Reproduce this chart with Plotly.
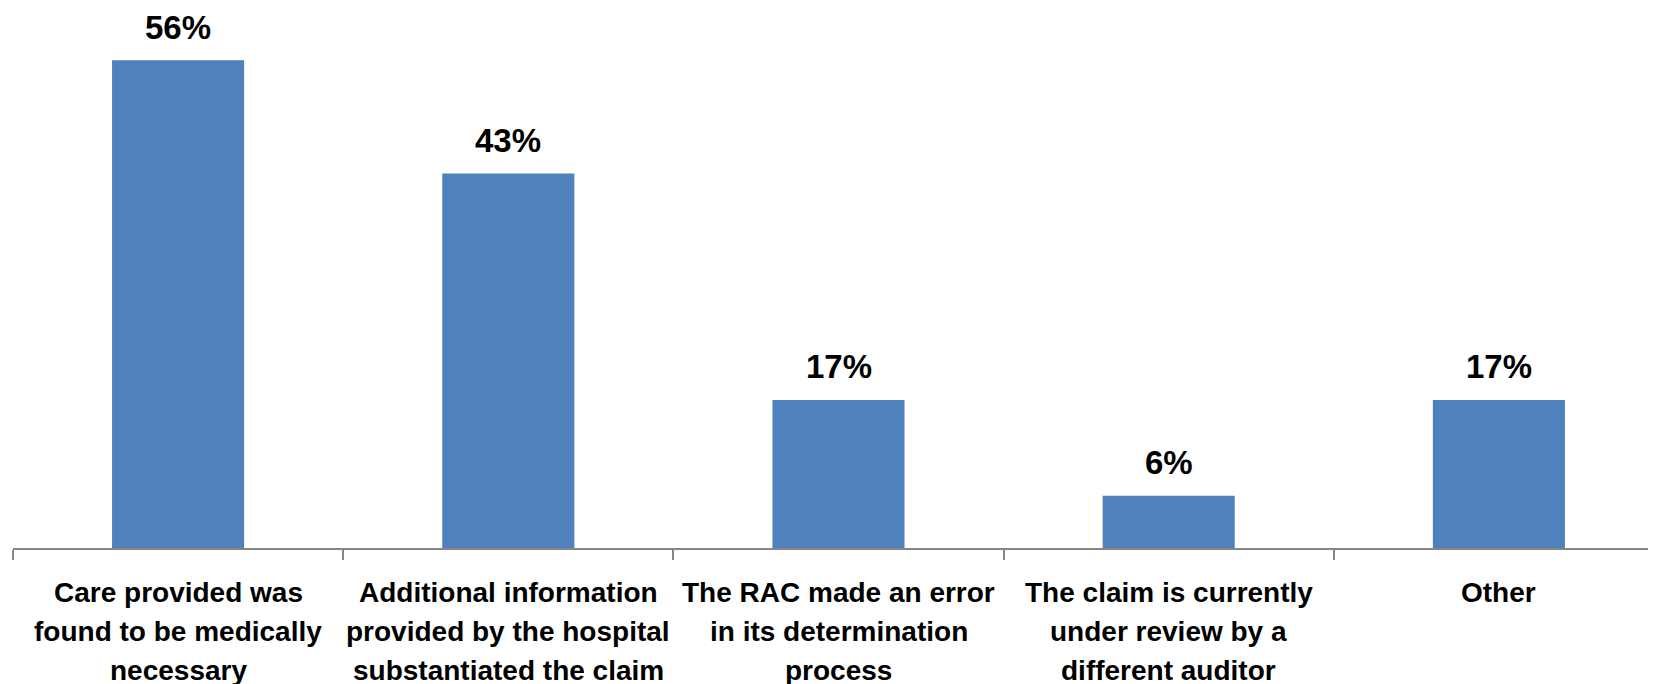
import plotly.graph_objects as go

categories = [
    "Care provided was<br>found to be medically<br>necessary",
    "Additional information<br>provided by the hospital<br>substantiated the claim",
    "The RAC made an error<br>in its determination<br>process",
    "The claim is currently<br>under review by a<br>different auditor",
    "Other",
]
values = [56, 43, 17, 6, 17]
value_labels = ["56%", "43%", "17%", "6%", "17%"]

FONT = "Liberation Sans, Arial, sans-serif"

fig = go.Figure(go.Bar(
    x=categories,
    y=values,
    marker=dict(color="#4F81BD", line=dict(width=0)),
    width=0.4,
    cliponaxis=False,
))

# value labels above bars
for c, v, t in zip(categories, values, value_labels):
    fig.add_annotation(
        x=c, y=v, text=f"<b>{t}</b>", showarrow=False,
        yanchor="middle", yshift=33,
        font=dict(size=33, color="black", family=FONT),
    )

# category labels (one annotation per line for Excel-like line spacing)
for c in categories:
    for i, line in enumerate(c.split("<br>")):
        fig.add_annotation(
            x=c, xref="x", y=0, yref="paper",
            text=f"<b>{line}</b>", showarrow=False,
            yanchor="middle", yshift=-(44 + 39 * i),
            font=dict(size=28, color="black", family=FONT),
        )

fig.update_layout(
    width=1656, height=684,
    margin=dict(l=5, r=0, t=0, b=144, autoexpand=False),
    paper_bgcolor="white", plot_bgcolor="white",
    showlegend=False,
    font=dict(family=FONT, color="black"),
)
fig.update_xaxes(
    type="category",
    automargin=False,
    tickson="boundaries",
    ticks="outside", ticklen=10, tickcolor="#868686", tickwidth=2,
    showline=True, linecolor="#868686", linewidth=2,
    showticklabels=False,
    showgrid=False,
)
fig.update_yaxes(range=[0, 62.0], visible=False, showgrid=False, automargin=False)

fig.write_html("out.html")
